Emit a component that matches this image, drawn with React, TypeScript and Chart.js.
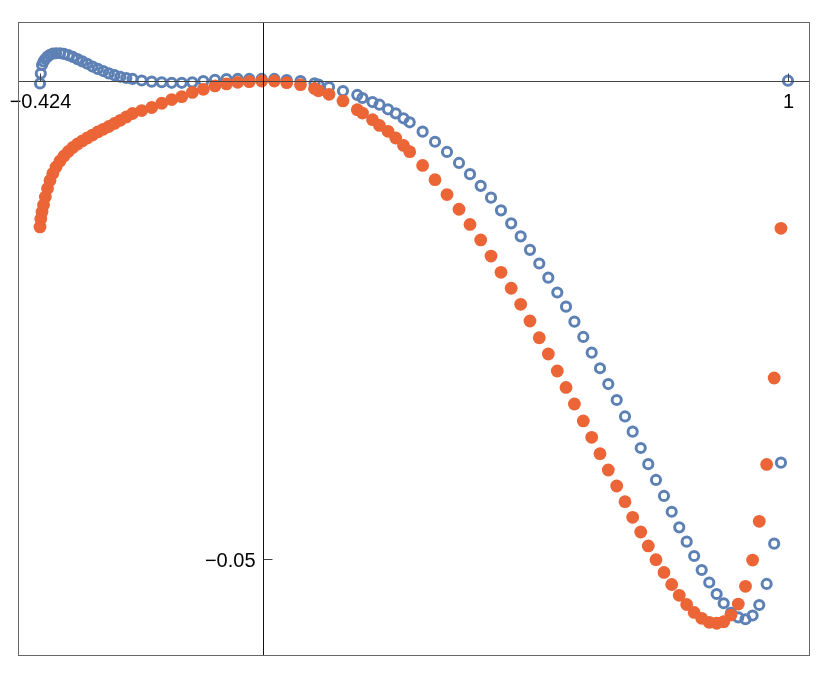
import React, { useEffect, useRef } from "react";
import { Chart, registerables } from "chart.js";

Chart.register(...registerables);

const xValues = [
  -0.424, -0.4225, -0.4202, -0.4173, -0.4139, -0.4097, -0.405, -0.3996, -0.3935, -0.3859, -0.3783, -0.3701,
  -0.3616, -0.3526, -0.3435, -0.334, -0.3241, -0.314, -0.3037, -0.293, -0.2822, -0.2711, -0.2597, -0.2479,
  -0.2304, -0.2114, -0.1923, -0.1733, -0.1542, -0.1341, -0.1131, -0.0909, -0.069, -0.0476, -0.0256, -0.002,
  0.0221, 0.0457, 0.0719, 0.0986, 0.1062, 0.1262, 0.1528, 0.18, 0.1899, 0.209, 0.2223, 0.2385, 0.2532, 0.268, 0.2798,
  0.3044, 0.328, 0.3508, 0.3737, 0.3946, 0.415, 0.4346, 0.4536, 0.473, 0.4911,
  0.5088, 0.5265, 0.5437, 0.5608, 0.5774, 0.5934, 0.6103, 0.6263, 0.6421, 0.6579,
  0.6739, 0.6897, 0.7043, 0.7196, 0.734, 0.7487, 0.7639, 0.7786, 0.793, 0.8071,
  0.8214, 0.8357, 0.8501, 0.8642, 0.8776, 0.8915, 0.9054, 0.9191, 0.9326, 0.9453,
  0.9594, 0.9737, 0.9866, 1.0,
];

const blueValues = [
  -0.00029, 0.00075, 0.00164, 0.00201, 0.00227, 0.00251, 0.00271, 0.00282, 0.00287, 0.00287, 0.0028, 0.00267,
  0.00248, 0.00226, 0.00202, 0.00177, 0.00148, 0.00123, 0.00101, 0.00077, 0.00058, 0.00041, 0.00028, 0.00018,
  0.00002, -0.0001, -0.00016, -0.00022, -0.00022, -0.00017, -0.00003, 0.00009, 0.00016, 0.00018, 0.00018, 0.00018,
  0.00018, 0.00007, -0.00005, -0.00027, -0.0004, -0.00066, -0.00108, -0.00149, -0.00181, -0.00223, -0.00251, -0.00299, -0.00341, -0.00393, -0.00435,
  -0.00533, -0.00638, -0.00745, -0.0086, -0.00977, -0.01099, -0.01223, -0.01355, -0.01491, -0.01627,
  -0.01768, -0.01911, -0.02059, -0.02214, -0.02362, -0.02519, -0.02679, -0.02843, -0.03006, -0.03171,
  -0.03338, -0.0351, -0.03669, -0.0384, -0.04009, -0.04174, -0.04341, -0.04506, -0.04669, -0.04819,
  -0.04969, -0.05115, -0.05246, -0.05366, -0.05463, -0.05562, -0.0561, -0.0563, -0.05591, -0.05481,
  -0.05261, -0.0484, -0.03993, 0,
];

const orangeValues: (number | null)[] = [
  -0.01529, -0.01446, -0.01373, -0.01299, -0.01216, -0.01127, -0.01043, -0.0097, -0.00902, -0.00839, -0.00787, -0.0074,
  -0.00698, -0.00662, -0.0063, -0.00599, -0.00568, -0.00536, -0.00508, -0.00479, -0.00447, -0.00414, -0.00379, -0.00343,
  -0.00312, -0.0028, -0.00236, -0.00197, -0.00167, -0.00123, -0.0009, -0.00055, -0.00034, -0.00017, -0.0001, -0.00003,
  -0.00003, -0.00021, -0.00042, -0.00082, -0.00106, -0.00142, -0.00212, -0.00303, -0.00338, -0.00408, -0.00468, -0.00529, -0.00599, -0.00677, -0.00742,
  -0.00886, -0.01035, -0.0119, -0.01344, -0.01503, -0.01665, -0.01833, -0.02003, -0.0217, -0.02338,
  -0.02512, -0.02687, -0.02857, -0.03035, -0.03207, -0.0338, -0.03557, -0.03728, -0.03899, -0.0407,
  -0.04237, -0.04401, -0.04564, -0.04718, -0.04864, -0.05007, -0.05141, -0.05267, -0.0538, -0.05476,
  -0.05559, -0.0562, -0.05662, -0.05672, -0.05656, -0.05586, -0.05471, -0.05286, -0.05011, -0.04606,
  -0.04012, -0.03108, -0.01543, null,
];

const xTickValues = [-0.424, 1];
const xTickLabels = ["\u22120.424", "1"];
const yTickValues = [-0.05];
const yTickLabels = ["\u22120.05"];

const X_MIN = -0.4659;
const X_MAX = 1.0419;
const Y_MIN = -0.060142;
const Y_MAX = 0.006136;

const BLUE = "#5E81B5";
const ORANGE = "#EB6536";
const FONT = '20px "Liberation Sans", Arial, sans-serif';

const axesPlugin = {
  id: "mmaAxes",
  afterDatasetsDraw(chart: any) {
    const { ctx, chartArea: a, scales } = chart;
    const xs = scales.x;
    const ys = scales.y;
    const x0 = Math.round(xs.getPixelForValue(0)) + 0.5;
    const y0 = Math.round(ys.getPixelForValue(0)) + 0.5;
    ctx.save();
    ctx.lineWidth = 1;
    ctx.strokeStyle = "#444";
    ctx.beginPath();
    ctx.moveTo(a.left, y0);
    ctx.lineTo(a.right, y0);
    ctx.stroke();
    ctx.strokeStyle = "#111";
    ctx.beginPath();
    ctx.moveTo(x0, a.top);
    ctx.lineTo(x0, a.bottom);
    ctx.stroke();
    ctx.font = FONT;
    ctx.fillStyle = "#000";
    ctx.strokeStyle = "#444";
    xTickValues.forEach((v, i) => {
      const px = Math.round(xs.getPixelForValue(v)) + 0.5;
      ctx.beginPath();
      ctx.moveTo(px, y0);
      ctx.lineTo(px, y0 - 8);
      ctx.stroke();
      ctx.textAlign = "center";
      ctx.textBaseline = "alphabetic";
      ctx.fillText(xTickLabels[i], px, y0 + 26.5);
    });
    yTickValues.forEach((v, i) => {
      const py = Math.round(ys.getPixelForValue(v)) + 0.5;
      ctx.beginPath();
      ctx.moveTo(x0, py);
      ctx.lineTo(x0 + 9, py);
      ctx.stroke();
      ctx.textAlign = "right";
      ctx.textBaseline = "alphabetic";
      ctx.fillText(yTickLabels[i], x0 - 8, py + 7.5);
    });
    ctx.strokeStyle = "#666";
    ctx.strokeRect(a.left + 0.5, a.top + 0.5, a.right - a.left - 1, a.bottom - a.top - 1);
    ctx.restore();
  },
};

export default function App() {
  const canvasRef = useRef<HTMLCanvasElement | null>(null);

  useEffect(() => {
    const canvas = canvasRef.current;
    if (!canvas) return;
    const chart = new Chart(canvas, {
      type: "scatter",
      data: {
        datasets: [
          {
            label: "orange",
            data: xValues.map((x, i) => ({ x, y: orangeValues[i] })),
            backgroundColor: ORANGE,
            borderColor: ORANGE,
            borderWidth: 0,
            pointRadius: 6.4,
            pointHoverRadius: 6.4,
            order: 1,
          },
          {
            label: "blue",
            data: xValues.map((x, i) => ({ x, y: blueValues[i] })),
            backgroundColor: "rgba(255,255,255,0)",
            borderColor: BLUE,
            borderWidth: 3,
            pointRadius: 4.6,
            pointHoverRadius: 4.6,
            order: 2,
          },
        ],
      },
      options: {
        animation: false,
        responsive: false,
        maintainAspectRatio: false,
        devicePixelRatio: 1,
        layout: { padding: { left: 18, top: 22, right: 20, bottom: 21 } },
        plugins: {
          legend: { display: false },
          tooltip: { enabled: false },
        },
        events: [],
        scales: {
          x: { type: "linear", min: X_MIN, max: X_MAX, display: false },
          y: { type: "linear", min: Y_MIN, max: Y_MAX, display: false },
        },
      },
      plugins: [axesPlugin],
    });
    return () => chart.destroy();
  }, []);

  return (
    <div style={{ position: "absolute", left: 0, top: 0, width: 830, height: 677, background: "#fff" }}>
      <canvas ref={canvasRef} width={830} height={677} style={{ width: 830, height: 677, display: "block" }} />
    </div>
  );
}
